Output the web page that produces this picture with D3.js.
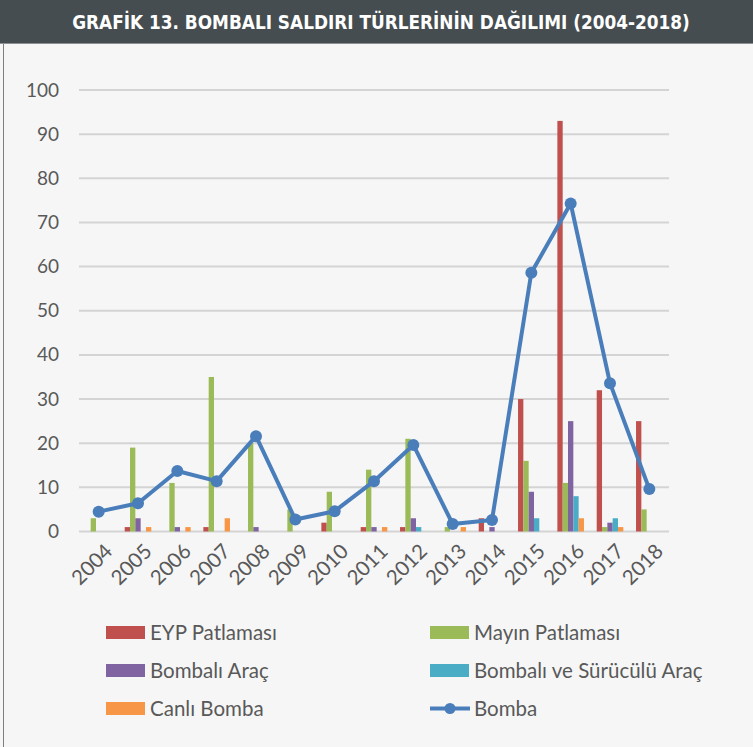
<!DOCTYPE html>
<html><head><meta charset="utf-8">
<script src="https://cdn.jsdelivr.net/npm/d3@7/dist/d3.min.js"></script>
<style>
html,body{margin:0;padding:0;background:#f6f6f6;}
svg{display:block;}
</style></head>
<body>
<svg id="c" width="753" height="747"></svg>
<script>
const title = "GRAFİK 13. BOMBALI SALDIRI TÜRLERİNİN DAĞILIMI (2004-2018)";
const years = ["2004","2005","2006","2007","2008","2009","2010","2011","2012","2013","2014","2015","2016","2017","2018"];
const yTicks = [0,10,20,30,40,50,60,70,80,90,100];
const seriesNames = ["EYP Patlaması","Mayın Patlaması","Bombalı Araç","Bombalı ve Sürücülü Araç","Canlı Bomba"];
const eyp    = [0,1,0,1,0,0,2,1,1,0,3,30,93,32,25];
const mayin  = [3,19,11,35,20,5,9,14,21,1,0,16,11,1,5];
const arac   = [0,3,1,0,1,0,0,1,3,0,1,9,25,2,0];
const surucu = [0,0,0,0,0,0,0,0,1,0,0,3,8,3,0];
const canli  = [0,1,1,3,0,0,0,1,0,1,0,0,3,1,0];
const bombaName = "Bomba";
const bomba  = [4.5,6.4,13.7,11.4,21.6,2.7,4.6,11.4,19.6,1.7,2.6,58.6,74.3,33.6,9.6];

(function(){
const barSeries = [eyp, mayin, arac, surucu, canli];
const colors = ["#c0504d","#9bbb59","#8064a2","#4bacc6","#f79646"];
const lineColor = "#4a7ebb";
const txtFont = "Lato, Carlito, sans-serif";
const txtColor = "#595959";

const svg = d3.select("#c");
const W = 753, H = 747;

svg.append("rect").attr("x",0).attr("y",0).attr("width",W).attr("height",H).attr("fill","#f6f6f6");
svg.append("line").attr("x1",3.5).attr("x2",3.5).attr("y1",43).attr("y2",H).attr("stroke","#7f7f7f").attr("stroke-width",1);
svg.append("rect").attr("x",0).attr("y",0).attr("width",W).attr("height",43).attr("fill","#454d51");
svg.append("line").attr("x1",0).attr("x2",W).attr("y1",43.5).attr("y2",43.5).attr("stroke","#8a9094").attr("stroke-width",1);
const tt = svg.append("text").attr("x",381).attr("y",29)
  .attr("text-anchor","middle")
  .attr("font-family","DejaVu Sans Condensed, DejaVu Sans")
  .attr("font-weight","bold").attr("font-size",20)
  .attr("fill","#ffffff")
  .text(title);
const tw = tt.node().getComputedTextLength();
if (tw > 0) tt.attr("font-size", Math.min(20, 20*618/tw));

const pLeft = 79, pRight = 669, pTop = 90, pBottom = 531.5;
const x = d3.scaleBand().domain(years).range([pLeft,pRight]).padding(0);
const y = d3.scaleLinear().domain([0,100]).range([pBottom,pTop]);
const groupW = 26.6;
const xi = d3.scaleBand().domain(d3.range(barSeries.length)).range([0,groupW]).padding(0);

svg.append("g").selectAll("line").data(yTicks).join("line")
  .attr("x1",pLeft).attr("x2",pRight)
  .attr("y1",d=>y(d)).attr("y2",d=>y(d))
  .attr("stroke","#d4d4d4").attr("stroke-width",2);

const yAxis = d3.axisLeft(y).tickValues(yTicks).tickSize(0).tickPadding(0);
const ya = svg.append("g").attr("transform",`translate(59,0)`).call(yAxis);
ya.select(".domain").remove();
ya.selectAll("text").attr("font-family",txtFont).attr("font-size",19).attr("fill",txtColor);

const xa = svg.append("g");
xa.selectAll("text").data(years).join("text")
  .attr("transform",d=>`translate(${x(d)+x.bandwidth()/2+10},${pBottom+16}) rotate(-45)`)
  .attr("text-anchor","end").attr("dy","0.35em")
  .attr("font-family",txtFont).attr("font-size",20.5).attr("fill",txtColor)
  .text(d=>d);

barSeries.forEach((vals,si)=>{
  svg.append("g").selectAll("rect").data(vals.map((v,i)=>({v,yr:years[i]})).filter(d=>d.v>0)).join("rect")
    .attr("x",d=>x(d.yr)+x.bandwidth()/2-groupW/2+xi(si))
    .attr("width",xi.bandwidth())
    .attr("y",d=>y(d.v))
    .attr("height",d=>y(0)-y(d.v))
    .attr("fill",colors[si]);
});

const line = d3.line().x((d,i)=>x(years[i])+x.bandwidth()/2).y(d=>y(d));
svg.append("path").datum(bomba).attr("d",line).attr("fill","none")
  .attr("stroke",lineColor).attr("stroke-width",4).attr("stroke-linejoin","round");
svg.append("g").selectAll("circle").data(bomba).join("circle")
  .attr("cx",(d,i)=>x(years[i])+x.bandwidth()/2).attr("cy",d=>y(d)).attr("r",6)
  .attr("fill",lineColor);

const legendItems = [
  {name:seriesNames[0], color:colors[0], col:0, row:0, type:"bar"},
  {name:seriesNames[1], color:colors[1], col:1, row:0, type:"bar"},
  {name:seriesNames[2], color:colors[2], col:0, row:1, type:"bar"},
  {name:seriesNames[3], color:colors[3], col:1, row:1, type:"bar"},
  {name:seriesNames[4], color:colors[4], col:0, row:2, type:"bar"},
  {name:bombaName, color:lineColor, col:1, row:2, type:"line"}
];
const colX = [106, 430], rowY = [632.5, 670.5, 708.5];
const lg = svg.append("g").selectAll("g").data(legendItems).join("g")
  .attr("transform",d=>`translate(${colX[d.col]},${rowY[d.row]})`);
lg.filter(d=>d.type==="bar").append("rect").attr("x",0).attr("y",-6.5).attr("width",39).attr("height",13).attr("fill",d=>d.color);
lg.filter(d=>d.type==="line").append("line").attr("x1",0).attr("x2",40).attr("y1",0).attr("y2",0).attr("stroke",d=>d.color).attr("stroke-width",4);
lg.filter(d=>d.type==="line").append("circle").attr("cx",20).attr("cy",0).attr("r",5.5).attr("fill",d=>d.color);
lg.append("text").attr("x",44).attr("y",0).attr("dy","0.35em")
  .attr("font-family",txtFont).attr("font-size",20.5).attr("fill",txtColor)
  .text(d=>d.name);
})();
</script>
</body></html>
